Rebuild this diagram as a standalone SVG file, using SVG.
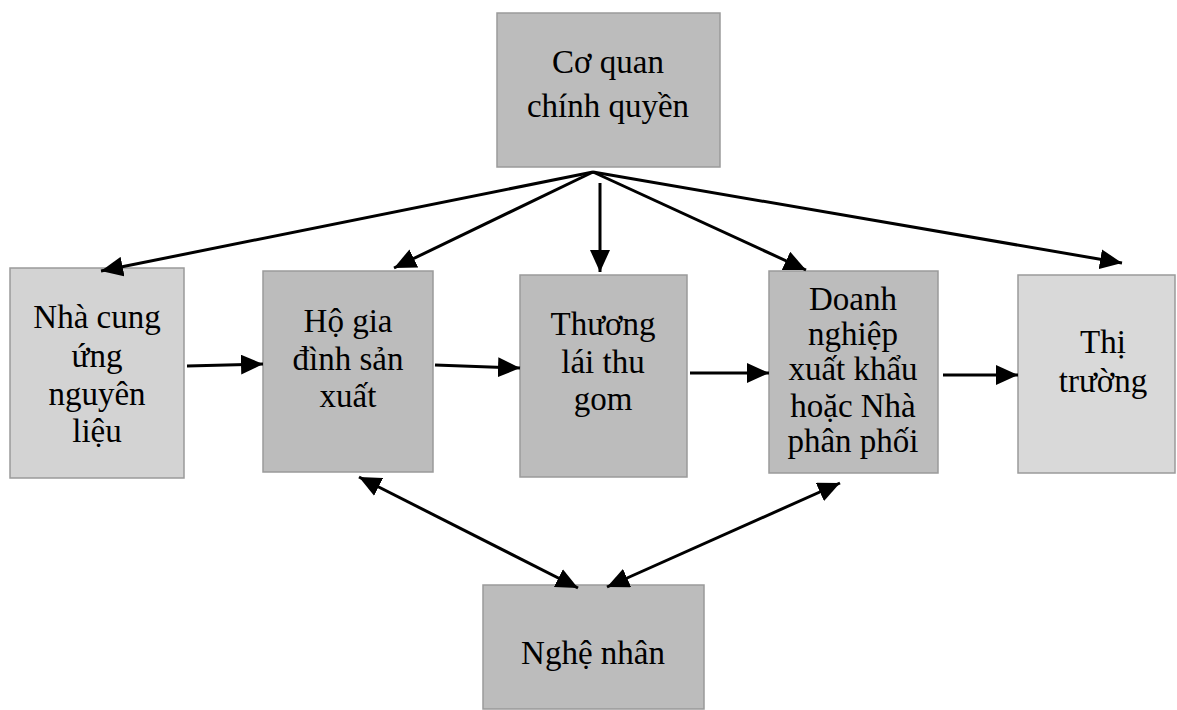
<svg xmlns="http://www.w3.org/2000/svg" width="1177" height="710" viewBox="0 0 1177 710">
<style>
.box{stroke:#9a9a9a;stroke-width:1.5}
.dark{fill:#bcbcbc}
.light{fill:#d3d3d3}
.lighter{fill:#d9d9d9}
text{font-family:"Liberation Serif","Times New Roman",serif;font-size:33px;fill:#000;text-anchor:middle}
.c line{stroke:#000;stroke-width:3;fill:none}
</style>
<defs>
<marker id="ah" viewBox="0 0 22 20" refX="22" refY="10" markerWidth="22" markerHeight="20" markerUnits="userSpaceOnUse" orient="auto-start-reverse">
<path d="M0,0 L22,10 L0,20 z" fill="#000"/>
</marker>
</defs>
<rect width="1177" height="710" fill="#fff"/>
<g id="co-quan">
<rect class="box dark" x="497" y="13" width="223" height="154"/>
<text x="608" y="73">Cơ quan</text>
<text x="608" y="117">chính quyền</text>
</g>
<g id="nha-cung">
<rect class="box light" x="10" y="268" width="174" height="210"/>
<text x="97" y="328">Nhà cung</text>
<text x="97" y="367">ứng</text>
<text x="97" y="405">nguyên</text>
<text x="97" y="442">liệu</text>
</g>
<g id="ho-gia">
<rect class="box dark" x="263" y="271" width="170" height="201"/>
<text x="348" y="332">Hộ gia</text>
<text x="348" y="370">đình sản</text>
<text x="348" y="407">xuất</text>
</g>
<g id="thuong-lai">
<rect class="box dark" x="520" y="275" width="167" height="202"/>
<text x="603" y="335">Thương</text>
<text x="603" y="373">lái thu</text>
<text x="603" y="410">gom</text>
</g>
<g id="doanh-nghiep">
<rect class="box dark" x="769" y="271" width="169" height="202"/>
<text x="853" y="310">Doanh</text>
<text x="853" y="345">nghiệp</text>
<text x="853" y="380">xuất khẩu</text>
<text x="853" y="417">hoặc Nhà</text>
<text x="853" y="452">phân phối</text>
</g>
<g id="thi-truong">
<rect class="box lighter" x="1018" y="275" width="157" height="198"/>
<text x="1103" y="353">Thị</text>
<text x="1103" y="392">trường</text>
</g>
<g id="nghe-nhan">
<rect class="box dark" x="483" y="585" width="221" height="124"/>
<text x="593" y="664">Nghệ nhân</text>
</g>
<g class="c" id="connectors">
<line x1="593" y1="172" x2="101" y2="271" marker-end="url(#ah)"/>
<line x1="593" y1="172" x2="394" y2="268" marker-end="url(#ah)"/>
<line x1="600" y1="183" x2="600" y2="272" marker-end="url(#ah)"/>
<line x1="593" y1="172" x2="806" y2="270" marker-end="url(#ah)"/>
<line x1="593" y1="172" x2="1122" y2="263" marker-end="url(#ah)"/>
<line x1="187" y1="366" x2="263" y2="364" marker-end="url(#ah)"/>
<line x1="435" y1="365" x2="520" y2="368" marker-end="url(#ah)"/>
<line x1="690" y1="373" x2="769" y2="373" marker-end="url(#ah)"/>
<line x1="943" y1="375" x2="1018" y2="375" marker-end="url(#ah)"/>
<line x1="359" y1="477" x2="578" y2="588" marker-start="url(#ah)" marker-end="url(#ah)"/>
<line x1="607" y1="587" x2="840" y2="483" marker-start="url(#ah)" marker-end="url(#ah)"/>
</g>
</svg>
